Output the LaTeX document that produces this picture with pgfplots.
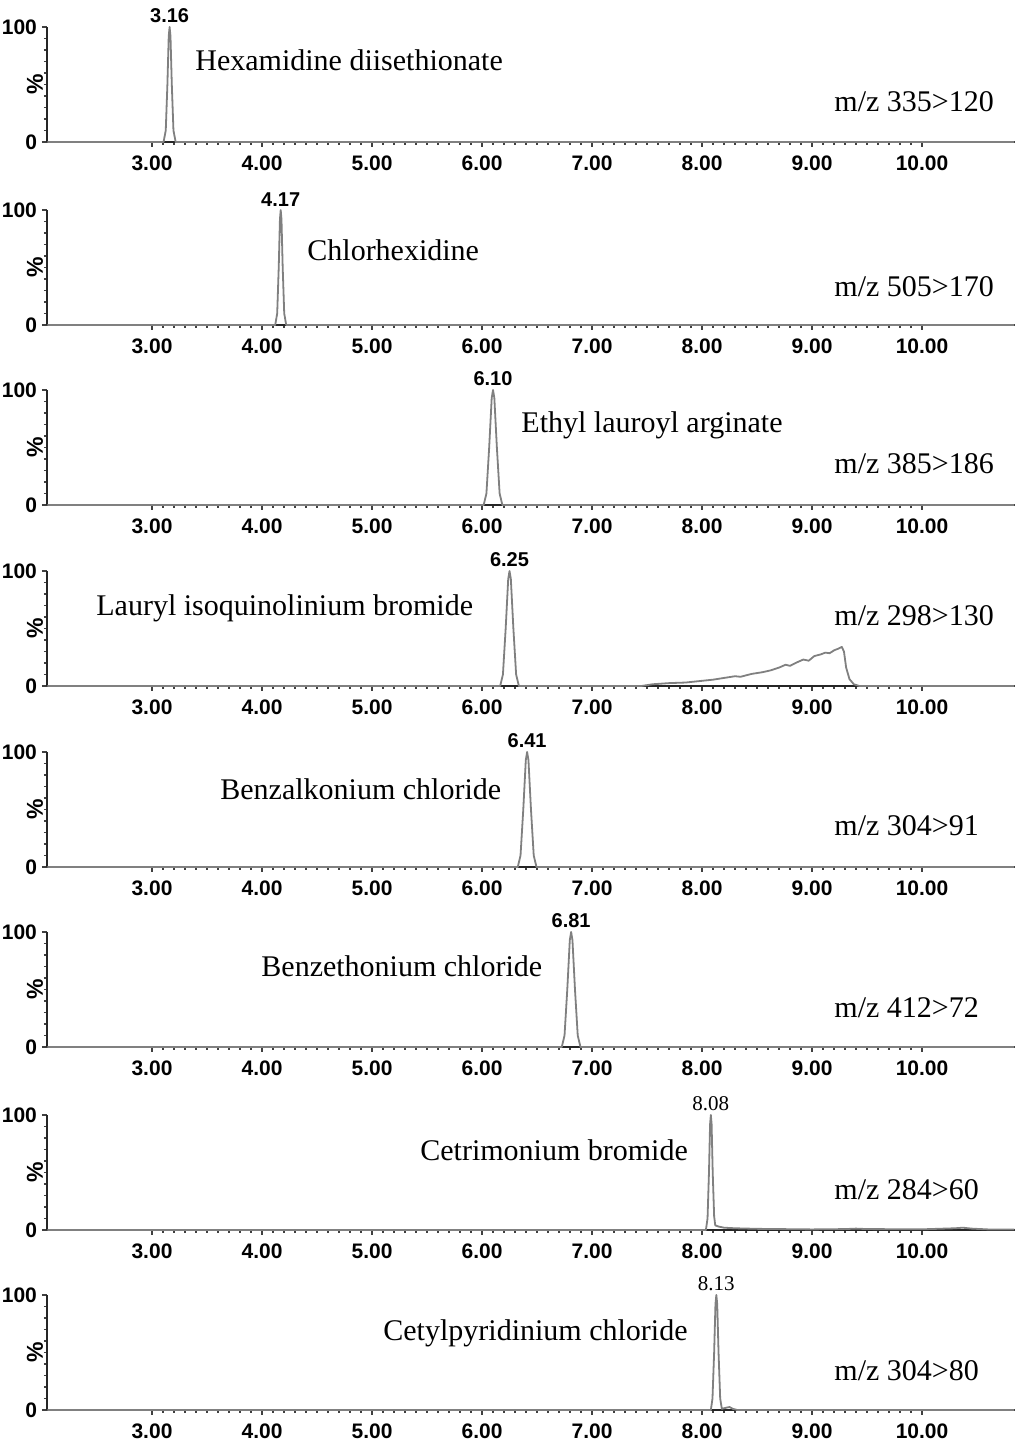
\documentclass[border=0pt]{standalone}
\usepackage{fontspec}
\setmainfont{Liberation Serif}
\newfontfamily\sansb{Liberation Sans}
\usepackage{pgfplots}
\pgfplotsset{compat=1.18}
\pgfplotsset{
  chrom/.style={
    scale only axis, width=484pt, height=57.5pt,
    anchor=south west,
    xmin=2.0455, xmax=10.845, ymin=0, ymax=100,
    axis x line=bottom, axis y line=left,
    axis line style={-, black!85, line width=0.9pt},
    tick align=outside,
    major tick length=2.5pt, minor tick length=1.5pt,
    every tick/.style={black!75, line width=0.6pt},
    xtick={3,4,5,6,7,8,9,10},
    xticklabels={3.00,4.00,5.00,6.00,7.00,8.00,9.00,10.00},
    minor x tick num=9,
    ytick={0,100}, yticklabels={0,100},
    minor y tick num=9,
    tick label style={font=\sansb\bfseries\fontsize{10.5}{11}\selectfont},
    xticklabel style={yshift=-1pt},
    yticklabel style={xshift=1pt},
    /pgf/number format/assume math mode=true,
    ylabel={\%},
    ylabel style={at={(axis description cs:-0.0124,0.5)}, anchor=center, font=\sansb\bfseries\fontsize{11.5}{12}\selectfont},
    clip=false,
  },
  trace/.style={color=black!50, line width=0.9pt, mark=none, line join=round},
}
\tikzset{
  nm/.style={anchor=west, inner sep=0pt, font=\fontsize{15}{16}\selectfont},
  pk/.style={anchor=south, inner sep=0pt, font=\sansb\bfseries\fontsize{10}{11}\selectfont},
  pks/.style={anchor=south, inner sep=0pt, font=\fontsize{10.5}{11}\selectfont},
}
\begin{document}
\begin{tikzpicture}
\path[use as bounding box] (0,0) rectangle (507.5pt,722.5pt);
% Panel 1
\begin{axis}[chrom, at={(23.5pt,651.5pt)}]
\addplot[trace] coordinates {(2.05,0) (3.105,0) (3.125,10) (3.14,50) (3.152,92) (3.16,100) (3.168,92) (3.18,50) (3.195,10) (3.215,0) (10.84,0)};
\node[pk] at (axis cs:3.16,103) {3.16};
\node[nm] at (axis cs:3.391,71.3) {Hexamidine diisethionate};
\node[nm] at (axis cs:9.20,34.8) {m/z 335>120};
\end{axis}
% Panel 2
\begin{axis}[chrom, at={(23.5pt,560pt)}]
\addplot[trace] coordinates {(2.05,0) (4.12,0) (4.138,10) (4.152,50) (4.163,92) (4.17,100) (4.177,92) (4.188,50) (4.202,10) (4.22,0) (10.84,0)};
\node[pk] at (axis cs:4.17,103) {4.17};
\node[nm] at (axis cs:4.409,65.2) {Chlorhexidine};
\node[nm] at (axis cs:9.20,33) {m/z 505>170};
\end{axis}
% Panel 3
\begin{axis}[chrom, at={(23.5pt,470pt)}]
\addplot[trace] coordinates {(2.05,0) (6.015,0) (6.04,10) (6.065,50) (6.088,93) (6.10,100) (6.112,93) (6.135,50) (6.16,10) (6.185,0) (10.84,0)};
\node[pk] at (axis cs:6.10,103) {6.10};
\node[nm] at (axis cs:6.355,69.6) {Ethyl lauroyl arginate};
\node[nm] at (axis cs:9.20,35.7) {m/z 385>186};
\end{axis}
% Panel 4
\begin{axis}[chrom, at={(23.5pt,379.5pt)}]
\addplot[trace] coordinates {(2.05,0) (6.165,0) (6.19,10) (6.215,50) (6.238,93) (6.25,100) (6.262,93) (6.285,50) (6.31,10) (6.335,0)
 (7.45,0) (7.55,1.5) (7.7,2.5) (7.85,3) (8.0,4.5) (8.1,5.5) (8.2,7) (8.3,8.5) (8.35,8) (8.45,10.5) (8.55,12) (8.62,13.5) (8.7,16) (8.76,18.5) (8.8,17.5) (8.85,20) (8.92,23) (8.97,22) (9.02,26) (9.08,27.5) (9.12,29) (9.16,28.5) (9.2,31) (9.24,32.5) (9.27,34) (9.29,30) (9.31,16) (9.34,6) (9.38,1.5) (9.43,0) (10.84,0)};
\node[pk] at (axis cs:6.25,103) {6.25};
\node[nm] at (axis cs:2.491,67.8) {Lauryl isoquinolinium bromide};
\node[nm] at (axis cs:9.20,60.9) {m/z 298>130};
\end{axis}
% Panel 5
\begin{axis}[chrom, at={(23.5pt,289pt)}]
\addplot[trace] coordinates {(2.05,0) (6.325,0) (6.35,10) (6.375,50) (6.398,93) (6.41,100) (6.422,93) (6.445,50) (6.47,10) (6.495,0) (10.84,0)};
\node[pk] at (axis cs:6.41,103) {6.41};
\node[nm] at (axis cs:3.618,67.8) {Benzalkonium chloride};
\node[nm] at (axis cs:9.20,35.7) {m/z 304>91};
\end{axis}
% Panel 6
\begin{axis}[chrom, at={(23.5pt,199pt)}]
\addplot[trace] coordinates {(2.05,0) (6.725,0) (6.75,10) (6.775,50) (6.798,93) (6.81,100) (6.822,93) (6.845,50) (6.87,10) (6.895,0) (10.84,0)};
\node[pk] at (axis cs:6.81,103) {6.81};
\node[nm] at (axis cs:3.991,70.4) {Benzethonium chloride};
\node[nm] at (axis cs:9.20,33.9) {m/z 412>72};
\end{axis}
% Panel 7
\begin{axis}[chrom, at={(23.5pt,107.5pt)}]
\addplot[trace] coordinates {(2.05,0) (8.035,0) (8.05,10) (8.063,50) (8.073,92) (8.08,100) (8.087,92) (8.097,50) (8.11,12) (8.12,4) (8.15,3) (8.2,2) (8.3,1.5) (8.5,1) (9.0,0.5) (9.3,0.8) (9.4,1.2) (9.5,0.8) (10.0,0.6) (10.3,1.5) (10.37,2) (10.45,1.2) (10.6,0.5) (10.84,0.4)};
\node[pks] at (axis cs:8.08,103) {8.08};
\node[nm] at (axis cs:5.436,69.6) {Cetrimonium bromide};
\node[nm] at (axis cs:9.20,34.8) {m/z 284>60};
\end{axis}
% Panel 8
\begin{axis}[chrom, at={(23.5pt,17.5pt)}]
\addplot[trace] coordinates {(2.05,0) (8.08,0) (8.095,10) (8.11,50) (8.122,92) (8.13,100) (8.138,92) (8.15,50) (8.165,10) (8.18,1) (8.22,2) (8.25,2.6) (8.28,1) (8.32,0) (10.84,0)};
\node[pks] at (axis cs:8.13,103) {8.13};
\node[nm] at (axis cs:5.100,67) {Cetylpyridinium chloride};
\node[nm] at (axis cs:9.20,33.9) {m/z 304>80};
\end{axis}
\end{tikzpicture}
\end{document}
